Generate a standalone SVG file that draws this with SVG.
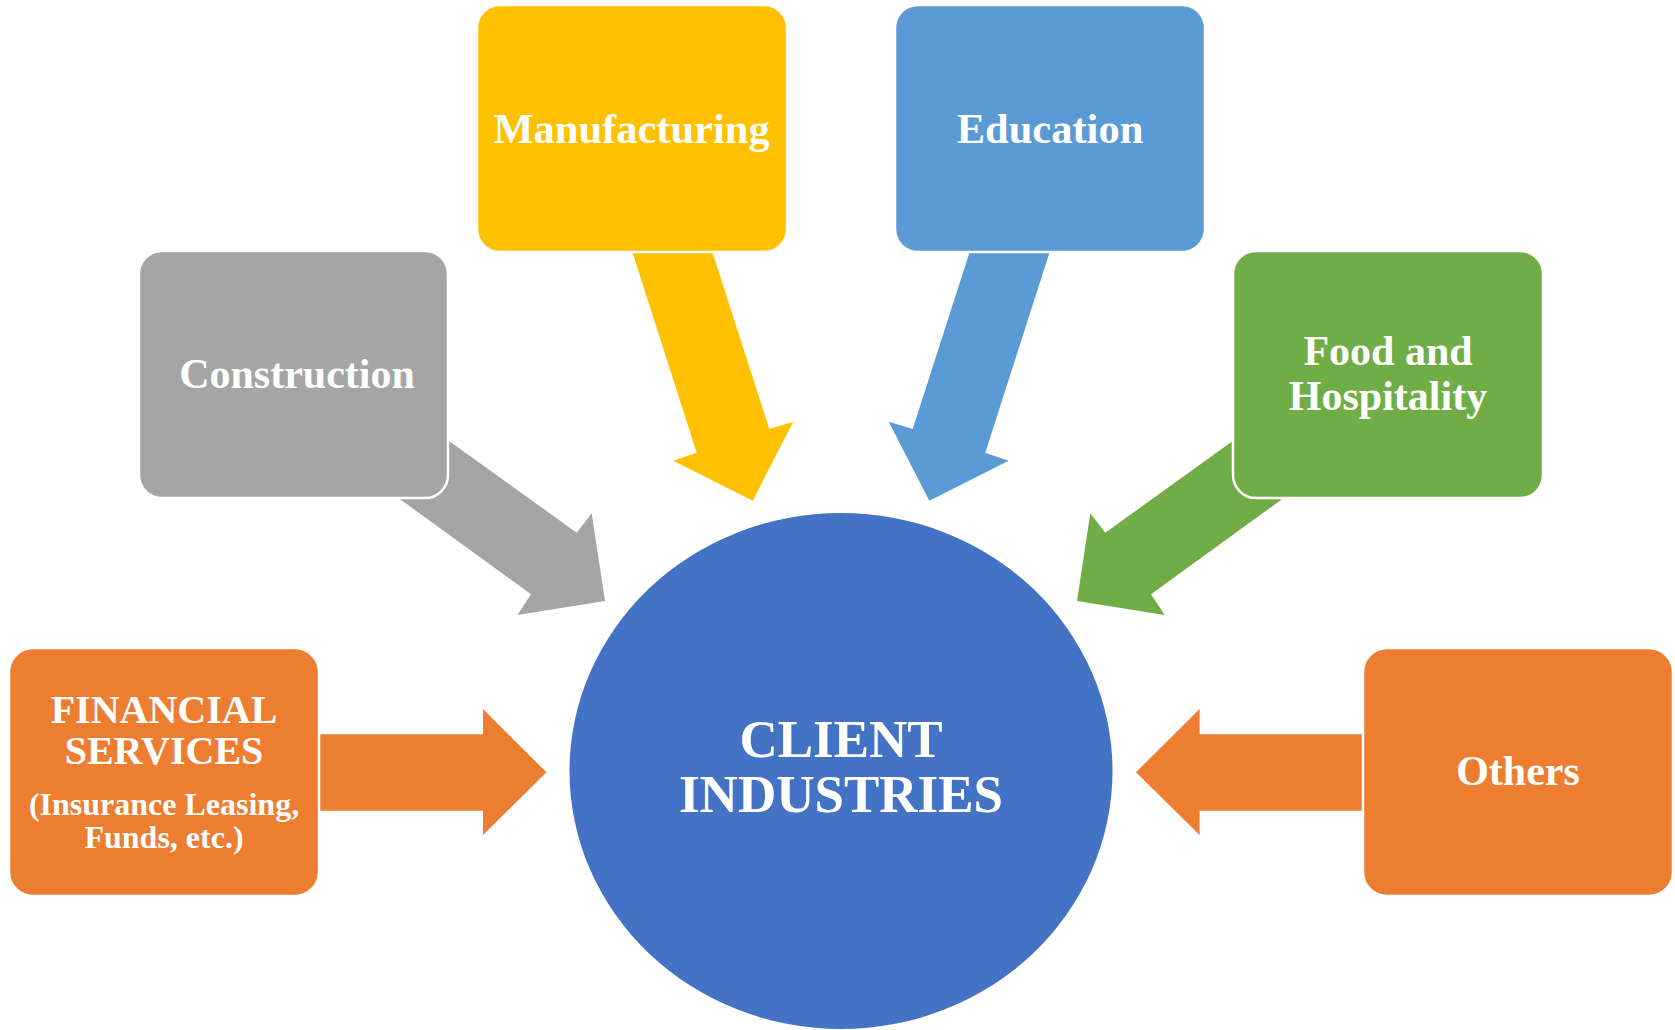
<svg xmlns="http://www.w3.org/2000/svg" width="1675" height="1030" viewBox="0 0 1675 1030">
<style>
.box{stroke:#ffffff;stroke-width:2.5}
.t{font-family:"Liberation Serif","Times New Roman",serif;font-weight:bold;fill:#ffffff;text-anchor:middle}
.orange{fill:#ED7D31}
.gray{fill:#A5A5A5}
.yellow{fill:#FFC000}
.blue{fill:#5B9BD5}
.green{fill:#70AD47}
</style>
<rect width="1675" height="1030" fill="#ffffff"/>
<g id="connectors">
<polygon class="orange" points="300,734.3 483,734.3 483,709 546.4,772.3 483,835 483,810.7 300,810.7"/>
<polygon class="orange" points="1382,734.3 1199.6,734.3 1199.6,709 1136,772.3 1199.6,835 1199.6,810.7 1382,810.7"/>
<polygon class="yellow" points="628.5,240 708.5,240 769.3,429 793.3,421.7 752.7,500.7 673.3,460.7 696.7,452.7"/>
<polygon class="blue" points="1053.5,240 973.5,240 912.7,429 888.7,421.7 929.3,500.7 1008.7,460.7 985.3,452.7"/>
<polygon class="gray" points="369.8,383.9 576.7,532.7 591.7,513.3 605,601 517.3,615 531,594.3 322.1,442.6"/>
<polygon class="green" points="1312.2,383.9 1105.3,532.7 1090.3,513.3 1077,601 1164.7,615 1151,594.3 1359.9,442.6"/>
</g>
<g id="financial">
<rect class="box orange" x="9" y="648" width="310" height="248" rx="24"/>
<text class="t" x="164" y="723" font-size="40">FINANCIAL</text>
<text class="t" x="164" y="764" font-size="40">SERVICES</text>
<text class="t" x="164" y="815" font-size="32">(Insurance Leasing,</text>
<text class="t" x="164" y="848" font-size="32">Funds, etc.)</text>
</g>
<g id="construction">
<rect class="box gray" x="139" y="251" width="309" height="247" rx="23"/>
<text class="t" x="297" y="388" font-size="42">Construction</text>
</g>
<g id="manufacturing">
<rect class="box yellow" x="477" y="5" width="310" height="247" rx="23"/>
<text class="t" x="631.5" y="142.7" font-size="42.5">Manufacturing</text>
</g>
<g id="education">
<rect class="box blue" x="895" y="5" width="310" height="247" rx="23"/>
<text class="t" x="1050" y="142.7" font-size="42.5">Education</text>
</g>
<g id="food">
<rect class="box green" x="1233" y="251" width="310" height="247" rx="23"/>
<text class="t" x="1388" y="365" font-size="42">Food and</text>
<text class="t" x="1388" y="410" font-size="42">Hospitality</text>
</g>
<g id="others">
<rect class="box orange" x="1363" y="648" width="310" height="248" rx="24"/>
<text class="t" x="1518" y="785" font-size="42">Others</text>
</g>
<g id="client">
<ellipse cx="841" cy="771" rx="271.5" ry="258" fill="#4472C4"/>
<text class="t" x="841" y="756.7" font-size="53">CLIENT</text>
<text class="t" x="841" y="811.7" font-size="53">INDUSTRIES</text>
</g>
</svg>
